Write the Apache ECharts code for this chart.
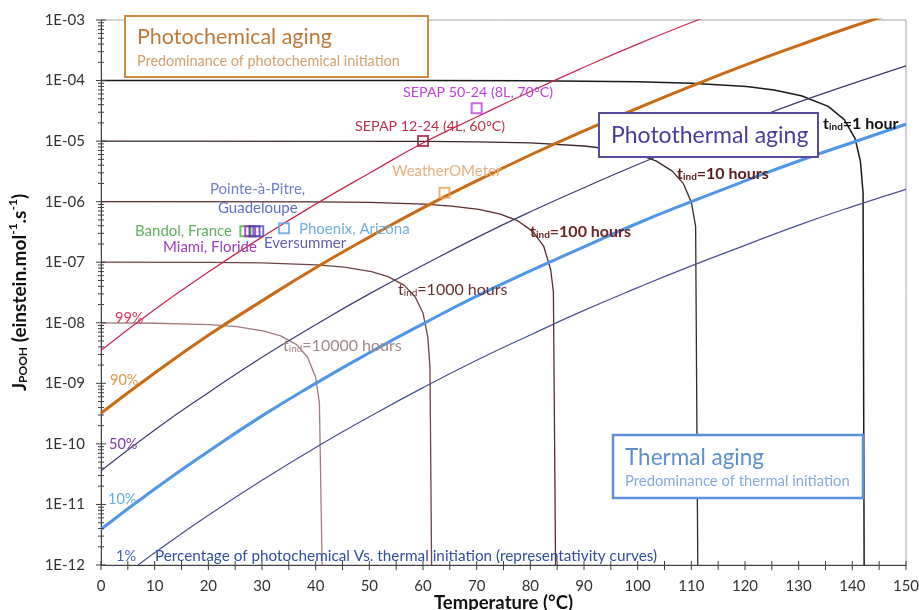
<!DOCTYPE html>
<html>
<head>
<meta charset="utf-8">
<script src="https://cdn.jsdelivr.net/npm/echarts@6/dist/echarts.min.js"></script>
<style>html,body{margin:0;padding:0;background:#fff}#c{width:919px;height:610px}</style>
</head>
<body>
<div id="c"></div>
<script>
// ---------- DATA ----------
const temps = [0,10,20,30,40,50,60,70,80,90,100,110,120,130,140,150];
// representativity curves (J_POOH, einstein.mol-1.s-1)
const rep99 = [3.5e-9,1.66e-8,6.9e-8,2.6e-7,9.1e-7,2.95e-6,9.3e-6,2.5e-5,6.6e-5,1.66e-4,4.0e-4,9.1e-4,2.0e-3,null,null,null];
const rep90 = [3.2e-10,1.48e-9,6.2e-9,2.3e-8,8.1e-8,2.6e-7,7.9e-7,2.2e-6,5.9e-6,1.48e-5,3.5e-5,8.1e-5,1.8e-4,3.8e-4,7.8e-4,1.5e-3];
const rep50 = [3.6e-11,1.7e-10,7.0e-10,2.7e-9,9.3e-9,3.0e-8,8.9e-8,2.55e-7,6.8e-7,1.7e-6,4.1e-6,9.4e-6,2.05e-5,4.4e-5,8.9e-5,1.75e-4];
const rep10 = [3.9e-12,1.8e-11,7.5e-11,2.9e-10,1.0e-9,3.2e-9,9.6e-9,2.75e-8,7.2e-8,1.8e-7,4.4e-7,1.0e-6,2.2e-6,4.7e-6,9.5e-6,1.9e-5];
const temps1 = [6.9,10,20,30,40,50,60,70,80,90,100,110,120,130,140,150];
const rep1  = [1.0e-12,1.6e-12,6.6e-12,2.5e-11,8.7e-11,2.8e-10,8.5e-10,2.4e-9,6.3e-9,1.6e-8,3.8e-8,8.7e-8,1.9e-7,4.1e-7,8.3e-7,1.6e-6];

// iso induction-time curves
const t1hX = [0,60,80,100,110,120.3,125.4,130.5,135.5,138.5,140.5,141.5,142.0,142.2];
const t1hY = [1e-4,9.99e-5,9.93e-5,9.59e-5,9.06e-5,7.95e-5,6.99e-5,5.6e-5,3.75e-5,2.27e-5,1.11e-5,4.7e-6,1.4e-6,1e-12];
const t10hX = [0,60,70,80,90,95.2,100.3,103.4,106.4,108.5,110.0,110.8,111.2];
const t10hY = [1e-5,9.91e-6,9.75e-6,9.32e-6,8.3e-6,7.34e-6,5.9e-6,4.72e-6,3.22e-6,2.0e-6,9.8e-7,3.9e-7,1e-12];
const t100hX = [0,40,50,60.2,65.3,70.4,74.4,77.5,80.5,82.5,83.8,84.3,84.7];
const t100hY = [1e-6,9.91e-7,9.7e-7,9.11e-7,8.47e-7,7.45e-7,6.21e-7,4.92e-7,3.2e-7,1.82e-7,7.5e-8,3.2e-8,1e-12];
const t1000hX = [0,20,30,40.2,45.3,50.4,53.5,56.5,58.5,60.0,60.9,61.3,61.6];
const t1000hY = [1e-7,9.93e-8,9.73e-8,9.07e-8,8.31e-8,7.0e-8,5.79e-8,4.14e-8,2.72e-8,1.45e-8,5.8e-9,1.8e-9,1e-12];
const t10000hX = [0,10,20.2,25.3,30.4,33.5,36.5,38.5,40.0,40.7,41.2];
const t10000hY = [1e-8,9.83e-9,9.3e-9,8.62e-9,7.3e-9,6.09e-9,4.31e-9,2.7e-9,1.25e-9,4.7e-10,1e-12];

// exposure conditions
const siteNames = ['SEPAP 50-24','SEPAP 12-24','WeatherOMeter','Bandol','Miami','Pointe-à-Pitre','Eversummer','Phoenix'];
const siteTemps = [70,60,64,26.9,27.8,28.6,29.3,34.1];
const siteJ     = [3.5e-5,1.0e-5,1.4e-6,3.25e-7,3.25e-7,3.25e-7,3.25e-7,3.65e-7];

// axis ticks
const xTicks = [0,5,10,15,20,25,30,35,40,45,50,55,60,65,70,75,80,85,90,95,100,105,110,115,120,125,130,135,140,145,150];
const yMajor = [1e-12,1e-11,1e-10,1e-9,1e-8,1e-7,1e-6,1e-5,1e-4,1e-3];

// ---------- CHART ----------
const FONT = 'Lato, "Open Sans", sans-serif';
const yMinor = [];
yMajor.slice(0,-1).forEach(d => { for (let m = 2; m <= 9; m++) yMinor.push(m * d); });

const pair = (xs, ys) => xs.map((x, i) => [x, ys[i]]);
function lineS(name, xs, ys, color, width, smooth) {
  return { name, type: 'line', data: pair(xs, ys), showSymbol: false, smooth: !!smooth, clip: true,
    lineStyle: { color, width }, itemStyle: { color }, silent: true, z: 3 };
}
const siteColors = ['#c040e0','#a8183a','#e8a050','#4caa4c','#8a2ab8','#5a2aa0','#5a50b0','#5fa2dc'];
const siteSeries = siteNames.map((n, i) => ({
  name: n, type: 'scatter', data: [[siteTemps[i], siteJ[i]]], symbol: 'rect', symbolSize: 10,
  itemStyle: { color: 'rgba(0,0,0,0)', borderColor: siteColors[i], borderWidth: 2 }, silent: true, z: 6
}));

const tickData = [
  ...yMajor.map(v => [0, v, 0]),
  ...yMinor.map(v => [0, v, 1]),
  ...xTicks.map(t => [t, 1e-12, 2])
];

function txt(x, y, text, color, size, weight) {
  return { type: 'text', x, y, z: 120, silent: true,
    style: { text, fill: color, font: (weight || 'normal') + ' ' + size + 'px ' + FONT, verticalAlign: 'middle' } };
}
function tind(x, y, rest, color, weight) {
  const w = weight || 'bold';
  return { type: 'text', x, y, z: 120, silent: true,
    style: { text: '{a|t}{b|ind}{a|' + rest + '}', verticalAlign: 'middle',
      rich: {
        a: { fill: color, fontSize: 16, fontWeight: w, fontFamily: FONT, lineHeight: 20, verticalAlign: 'bottom' },
        b: { fill: color, fontSize: 10, fontWeight: w, fontFamily: FONT, lineHeight: 10, verticalAlign: 'bottom' }
      } } };
}

const chart = echarts.init(document.getElementById('c'), null, { renderer: 'canvas' });
chart.setOption({
  animation: false,
  backgroundColor: '#fff',
  grid: { left: 101, right: 13, top: 20, bottom: 45, outerBoundsMode: 'none', containLabel: false,
    show: true, borderColor: '#a8a8a8', borderWidth: 1, backgroundColor: 'transparent' },
  xAxis: {
    type: 'value', min: 0, max: 150, interval: 10,
    name: 'Temperature (°C)', nameLocation: 'middle', nameGap: 28, nameMoveOverlap: false,
    nameTextStyle: { fontFamily: FONT, fontSize: 18.5, fontWeight: 'bold', color: '#111', lineHeight: 20 },
    axisLine: { show: true, lineStyle: { color: '#404040', width: 1 } },
    axisTick: { show: false }, splitLine: { show: false },
    axisLabel: { fontFamily: FONT, fontSize: 15, color: '#333', margin: 14 }
  },
  yAxis: {
    type: 'log', logBase: 10, min: 1e-12, max: 1e-3, splitNumber: 9,
    name: '{m|J}{s|POOH}{m| (einstein.mol}{p|-1}{m|.s}{p|-1}{m|)}',
    nameLocation: 'middle', nameGap: 72, nameRotate: 90, nameMoveOverlap: false,
    nameTextStyle: { rich: {
      m: { fontFamily: FONT, fontSize: 19, fontWeight: 'bold', color: '#111', lineHeight: 22, verticalAlign: 'bottom' },
      s: { fontFamily: FONT, fontSize: 12, fontWeight: 'bold', color: '#111', lineHeight: 12, verticalAlign: 'bottom' },
      p: { fontFamily: FONT, fontSize: 12, fontWeight: 'bold', color: '#111', lineHeight: 12, verticalAlign: 'top' }
    } },
    axisLine: { show: true, lineStyle: { color: '#404040', width: 1 } },
    axisTick: { show: false }, splitLine: { show: false }, minorTick: { show: false },
    axisLabel: { fontFamily: FONT, fontSize: 15, color: '#333', margin: 16,
      formatter: v => '1E-' + String(Math.round(-Math.log10(v))).padStart(2, '0') }
  },
  series: [
    lineS('10000 hours', t10000hX, t10000hY, '#a07c7c', 1.3),
    lineS('1000 hours', t1000hX, t1000hY, '#6e4444', 1.3),
    lineS('100 hours', t100hX, t100hY, '#5a2c2c', 1.3),
    lineS('10 hours', t10hX, t10hY, '#3a2626', 1.3),
    lineS('1 hour', t1hX, t1hY, '#1a1a1a', 1.5),
    lineS('1%', temps1, rep1, '#4a5090', 1.2, true),
    lineS('50%', temps, rep50, '#3c3c6c', 1.2, true),
    lineS('99%', temps, rep99, '#cc2a50', 1.3, true),
    lineS('90%', temps, rep90, '#c96a16', 3, true),
    lineS('10%', temps, rep10, '#4f96e8', 3, true),
    ...siteSeries,
    { name: 'ticks', type: 'custom', data: tickData, silent: true, clip: false, z: 8,
      renderItem: (params, api) => {
        const p = api.coord([api.value(0), api.value(1)]);
        const k = api.value(2);
        let shape;
        if (k === 2) shape = { x1: p[0], y1: p[1] - 4, x2: p[0], y2: p[1] + 5 };
        else if (k === 0) shape = { x1: p[0] - 5, y1: p[1], x2: p[0] + 5, y2: p[1] };
        else shape = { x1: p[0] - 3, y1: p[1], x2: p[0] + 3, y2: p[1] };
        return { type: 'line', shape, style: { stroke: '#404040', lineWidth: 1 } };
      } }
  ],
  graphic: [
    // boxes
    { type: 'rect', z: 100, silent: true, shape: { x: 125, y: 16, width: 303, height: 61 }, style: { fill: '#fff', stroke: '#d08a40', lineWidth: 2 } },
    txt(137, 37, 'Photochemical aging', '#c07838', 21.5),
    txt(137, 61, 'Predominance of photochemical initiation', '#d4a070', 14.4),
    { type: 'rect', z: 100, silent: true, shape: { x: 599, y: 113, width: 219, height: 44 }, style: { fill: '#fff', stroke: '#5a4aa0', lineWidth: 2 } },
    txt(611, 136, 'Photothermal aging', '#4a3c9c', 23),
    { type: 'rect', z: 100, silent: true, shape: { x: 613, y: 435, width: 250, height: 63 }, style: { fill: '#fff', stroke: '#5b90dc', lineWidth: 2.5 } },
    txt(625, 458, 'Thermal aging', '#5b8fd0', 22.5),
    txt(625, 481, 'Predominance of thermal initiation', '#84aae0', 14.8),
    // site labels
    txt(403, 92, 'SEPAP 50-24 (8L, 70°C)', '#c040e0', 14.3),
    txt(355, 126, 'SEPAP 12-24 (4L, 60°C)', '#c03048', 14.3),
    txt(392, 171, 'WeatherOMeter', '#e8b080', 15),
    txt(210, 189, 'Pointe-à-Pitre,', '#7080c8', 15),
    txt(218, 208, 'Guadeloupe', '#6070c0', 15),
    txt(135, 231, 'Bandol, France', '#60b060', 15),
    txt(163, 247, 'Miami, Floride', '#a040c0', 15),
    txt(299, 229, 'Phoenix, Arizona', '#70b0e0', 15),
    txt(264, 243, 'Eversummer', '#6060b0', 15),
    // percentage labels
    txt(115, 318, '99%', '#d04060', 14.5),
    txt(110, 380, '90%', '#e09848', 14.5),
    txt(109, 444, '50%', '#7a3aa8', 14.5),
    txt(108, 499, '10%', '#68aee6', 14.5),
    txt(116, 556, '1%', '#4a62b4', 14.5),
    txt(155, 556, 'Percentage of photochemical Vs. thermal initiation (representativity curves)', '#3050a0', 15.3),
    // induction time labels
    tind(823, 122, '=1 hour', '#111111'),
    tind(677, 172, '=10 hours', '#5a1c1c'),
    tind(530, 230, '=100 hours', '#6e2424'),
    tind(398, 288, '=1000 hours', '#6a3030', 'normal'),
    tind(283, 344, '=10000 hours', '#a48888', 'normal')
  ]
});
</script>
</body>
</html>
